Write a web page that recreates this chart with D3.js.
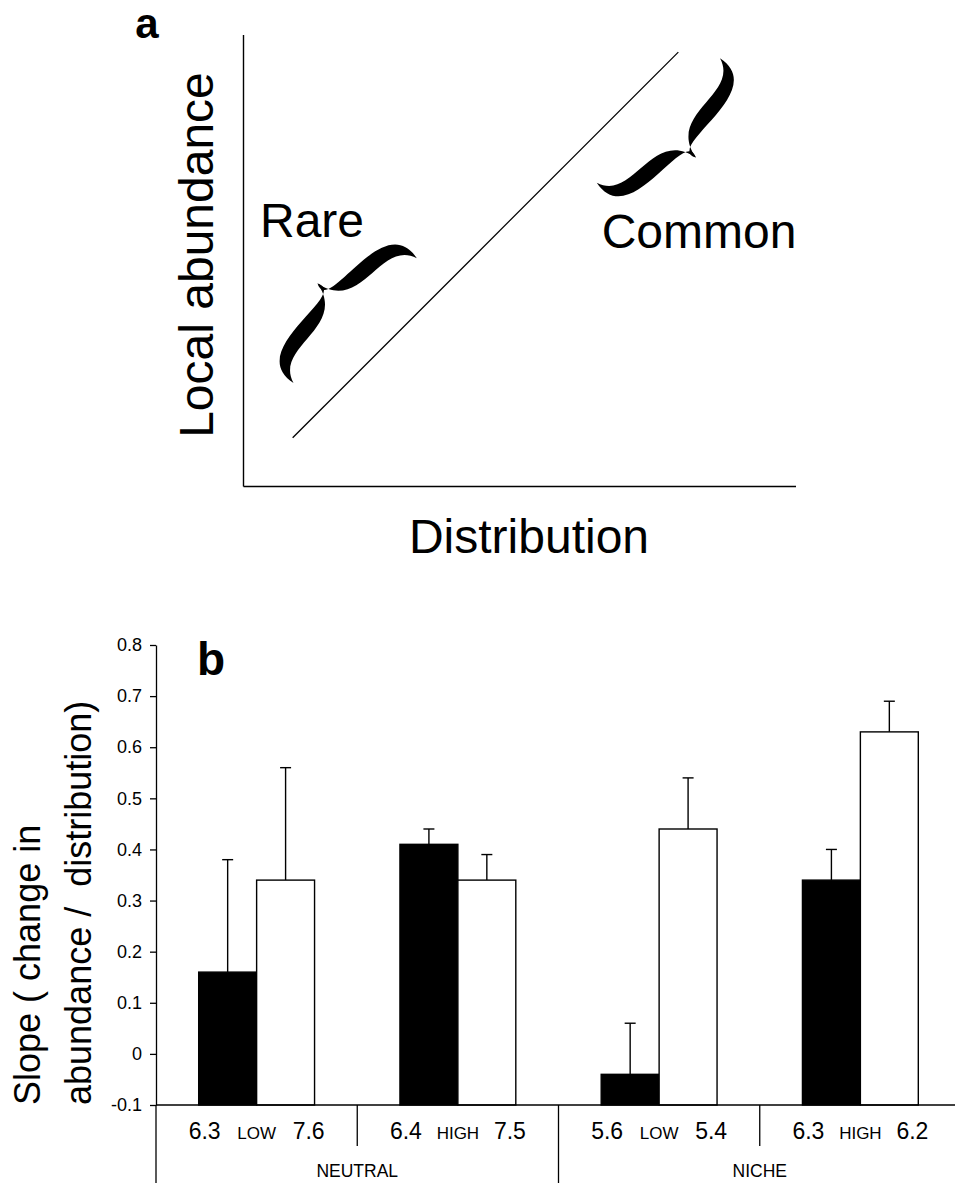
<!DOCTYPE html>
<html>
<head>
<meta charset="utf-8">
<script src="https://cdn.jsdelivr.net/npm/d3@7"></script>
<style>
  body { margin: 0; background: #fff; }
  svg { display: block; font-family: "Liberation Sans", Arial, sans-serif; }
</style>
</head>
<body>
<div id="chart"></div>
<script>
// ---- panel a (schematic) ----
const trendLine = [[0.089, 0.108], [0.787, 0.962]];
const rareBrace = [[0.0905, 0.229], [0.3137, 0.5056]];
const commonBrace = [[0.6394, 0.673], [0.8625, 0.9484]];

// ---- panel b (bars) ----
const conditions = ['neutral-low', 'neutral-high', 'niche-low', 'niche-high'];
const series = ['dark', 'light'];
const slopeDark = [0.16, 0.41, -0.04, 0.34];
const slopeLight = [0.34, 0.34, 0.44, 0.63];
const errDark = [0.22, 0.03, 0.10, 0.06];
const errLight = [0.22, 0.05, 0.10, 0.06];
const leftNums = ['6.3', '6.4', '5.6', '6.3'];
const rightNums = ['7.6', '7.5', '5.4', '6.2'];
const levelLabels = ['LOW', 'HIGH', 'LOW', 'HIGH'];
const modelLabels = ['NEUTRAL', 'NICHE'];
const yTicks = [-0.1, 0, 0.1, 0.2, 0.3, 0.4, 0.5, 0.6, 0.7, 0.8];

const width = 955;
const height = 1183;

const svg = d3.select('#chart')
    .append('svg')
    .attr('width', width)
    .attr('height', height);

svg.append('rect').attr('width', width).attr('height', height).attr('fill', '#fff');

// =========== panel a ===========
const xa = d3.scaleLinear().domain([0, 1]).range([243.5, 796]);
const ya = d3.scaleLinear().domain([0, 1]).range([486.5, 35]);

const pa = svg.append('g');

pa.append('line')
    .attr('x1', xa(0)).attr('x2', xa(0))
    .attr('y1', ya(0)).attr('y2', ya(1))
    .attr('stroke', '#000').attr('stroke-width', 1.4);
pa.append('line')
    .attr('x1', xa(0)).attr('x2', xa(1))
    .attr('y1', ya(0)).attr('y2', ya(0))
    .attr('stroke', '#000').attr('stroke-width', 1.4);

pa.append('path')
    .datum(trendLine)
    .attr('d', d3.line().x(d => xa(d[0])).y(d => ya(d[1])))
    .attr('fill', 'none')
    .attr('stroke', '#000')
    .attr('stroke-width', 1.3);

// curly brace, drawn in a frame where the chord is 176 long
const halfBrace = 'M0,0 C-12,60 104,22 88,53 C78,0 12,40 0,0 Z';
const halfBrace2 = 'M176,0 C188,60 72,22 88,53 C98,0 164,40 176,0 Z';

function drawBrace(ends, side) {
    const a = [xa(ends[0][0]), ya(ends[0][1])];
    const b = [xa(ends[1][0]), ya(ends[1][1])];
    const len = Math.hypot(b[0] - a[0], b[1] - a[1]);
    const ang = Math.atan2(b[1] - a[1], b[0] - a[0]) * 180 / Math.PI;
    const k = len / 176;
    const g = pa.append('g')
        .attr('transform', `translate(${a[0]},${a[1]}) rotate(${ang}) scale(${k},${k * side})`);
    g.append('path').attr('d', halfBrace).attr('fill', '#000');
    g.append('path').attr('d', halfBrace2).attr('fill', '#000');
}
drawBrace(rareBrace, -1);
drawBrace(commonBrace, 1);

pa.append('text')
    .attr('x', 147).attr('y', 38)
    .attr('text-anchor', 'middle')
    .attr('font-size', 42).attr('font-weight', 'bold')
    .text('a');

pa.append('text')
    .attr('transform', 'translate(213,255) rotate(-90)')
    .attr('text-anchor', 'middle')
    .attr('font-size', 48)
    .text('Local abundance');

pa.append('text')
    .attr('x', 529).attr('y', 553)
    .attr('text-anchor', 'middle')
    .attr('font-size', 48)
    .text('Distribution');

pa.append('text')
    .attr('x', 312).attr('y', 237)
    .attr('text-anchor', 'middle')
    .attr('font-size', 48)
    .text('Rare');

pa.append('text')
    .attr('x', 699).attr('y', 248)
    .attr('text-anchor', 'middle')
    .attr('font-size', 48)
    .text('Common');

// =========== panel b ===========
const y = d3.scaleLinear().domain([-0.1, 0.8]).range([1105, 645]);
const x = d3.scaleBand().domain(conditions).range([156, 961]).padding(0);
const x1 = d3.scaleBand().domain(series).range([0, x.bandwidth()])
    .paddingInner(0).paddingOuter(0.737);

const bars = conditions.map((c, i) => [
    { cond: c, s: 'dark', v: slopeDark[i], e: errDark[i] },
    { cond: c, s: 'light', v: slopeLight[i], e: errLight[i] }
]).flat();

const pb = svg.append('g');

// error bars first, bars drawn over
const eb = pb.append('g').selectAll('g')
    .data(bars)
    .join('g')
    .attr('transform', d => `translate(${x(d.cond) + x1(d.s) + x1.bandwidth() / 2},0)`);
eb.append('line')
    .attr('y1', d => y(d.v)).attr('y2', d => y(d.v + d.e))
    .attr('stroke', '#000').attr('stroke-width', 1.4);
eb.append('line')
    .attr('x1', -5.5).attr('x2', 5.5)
    .attr('y1', d => y(d.v + d.e)).attr('y2', d => y(d.v + d.e))
    .attr('stroke', '#000').attr('stroke-width', 1.4);

pb.append('g').selectAll('rect')
    .data(bars)
    .join('rect')
    .attr('x', d => x(d.cond) + x1(d.s))
    .attr('y', d => y(d.v))
    .attr('width', x1.bandwidth())
    .attr('height', d => y(-0.1) - y(d.v))
    .attr('fill', d => d.s === 'dark' ? '#000' : '#fff')
    .attr('stroke', '#000')
    .attr('stroke-width', 1.4);

// y axis
const yAxis = d3.axisLeft(y)
    .tickValues(yTicks)
    .tickSize(6)
    .tickSizeOuter(0)
    .tickPadding(8)
    .tickFormat(d => String(+d.toFixed(1)));

const gy = pb.append('g')
    .attr('transform', `translate(${x.range()[0]},0)`)
    .call(yAxis)
    .attr('font-family', null)
    .attr('font-size', 18);
gy.selectAll('path, line').attr('stroke', '#000').attr('stroke-width', 1.3);
gy.selectAll('text').attr('fill', '#000');

// x baseline
pb.append('line')
    .attr('x1', x.range()[0]).attr('x2', width)
    .attr('y1', y(-0.1)).attr('y2', y(-0.1))
    .attr('stroke', '#000').attr('stroke-width', 1.3);

// category separators
pb.append('g').selectAll('line')
    .data(conditions)
    .join('line')
    .attr('x1', d => x(d)).attr('x2', d => x(d))
    .attr('y1', y(-0.1))
    .attr('y2', (d, i) => i % 2 === 0 ? height : 1146)
    .attr('stroke', '#000').attr('stroke-width', 1.3);

// category labels
const lab = pb.append('g').selectAll('g')
    .data(conditions)
    .join('g')
    .attr('transform', d => `translate(${x(d) + x.bandwidth() / 2},1139)`);
lab.append('text')
    .attr('x', -52).attr('text-anchor', 'middle')
    .attr('font-size', 23)
    .text((d, i) => leftNums[i]);
lab.append('text')
    .attr('x', 0).attr('text-anchor', 'middle')
    .attr('font-size', 17)
    .text((d, i) => levelLabels[i]);
lab.append('text')
    .attr('x', 52).attr('text-anchor', 'middle')
    .attr('font-size', 23)
    .text((d, i) => rightNums[i]);

pb.append('g').selectAll('text')
    .data(modelLabels)
    .join('text')
    .attr('x', (d, i) => x(conditions[i * 2 + 1]))
    .attr('y', 1177)
    .attr('text-anchor', 'middle')
    .attr('font-size', 17.5)
    .text(d => d);

pb.append('text')
    .attr('x', 211).attr('y', 675)
    .attr('text-anchor', 'middle')
    .attr('font-size', 46).attr('font-weight', 'bold')
    .text('b');

// y title, two lines
const yt = pb.append('text')
    .attr('transform', 'translate(0,1105) rotate(-90)')
    .attr('font-size', 36);
yt.append('tspan').attr('x', 0).attr('y', 40).text('Slope ( change in');
yt.append('tspan').attr('x', 0).attr('y', 91).attr('xml:space', 'preserve').text('abundance /  distribution)');
</script>
</body>
</html>
